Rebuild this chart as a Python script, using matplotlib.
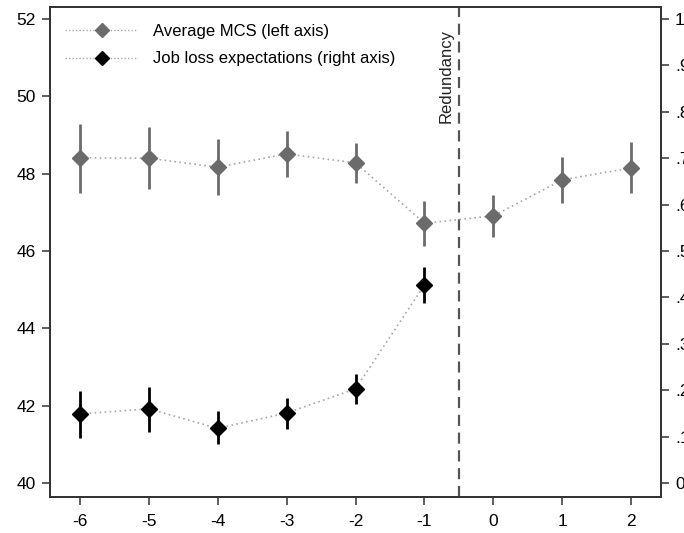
import matplotlib
matplotlib.use("Agg")
import matplotlib.pyplot as plt
from matplotlib.lines import Line2D
import numpy as np

plt.rcParams['font.family'] = ['Liberation Sans', 'DejaVu Sans']

# years relative to redundancy
periods = [-6, -5, -4, -3, -2, -1, 0, 1, 2]

# average MCS with confidence bounds (left axis)
mcs = [48.41, 48.40, 48.17, 48.51, 48.28, 46.72, 46.91, 47.84, 48.15]
mcs_lo = [47.50, 47.60, 47.45, 47.91, 47.76, 46.13, 46.36, 47.24, 47.50]
mcs_hi = [49.28, 49.20, 48.90, 49.10, 48.79, 47.29, 47.45, 48.43, 48.82]

# job loss expectations with confidence bounds (right axis)
job_periods = [-6, -5, -4, -3, -2, -1]
job = [0.149, 0.160, 0.118, 0.151, 0.203, 0.427]
job_lo = [0.098, 0.110, 0.084, 0.117, 0.170, 0.388]
job_hi = [0.199, 0.207, 0.155, 0.183, 0.235, 0.466]

left_ticks = [40, 42, 44, 46, 48, 50, 52]
right_ticks = [0, .1, .2, .3, .4, .5, .6, .7, .8, .9, 1]
right_labels = ['0', '.1', '.2', '.3', '.4', '.5', '.6', '.7', '.8', '.9', '1']

gray = '#6b6b6b'
dotc = '#a8a8a8'
spine_c = '#333333'

fig = plt.figure(figsize=(6.84, 5.33), dpi=100)
ax = fig.add_axes([0.0731, 0.0675, 0.8933, 0.9194])
ax2 = ax.twinx()

ylo, yhi = 39.64, 52.31
ax.set_ylim(ylo, yhi)
ax2.set_ylim((ylo - 40) / 12, (yhi - 40) / 12)
ax.set_xlim(-6.43, 2.43)

# MCS series
mcs = np.array(mcs)
ax.plot(periods, mcs, ls=(0, (1, 2)), color=dotc, lw=1.2, zorder=2)
ax.vlines(periods, mcs_lo, mcs_hi, color=gray, lw=2, zorder=3)
ax.plot(periods, mcs, 'D', color=gray, ms=8, zorder=4)

# job loss series
job = np.array(job)
ax2.plot(job_periods, job, ls=(0, (1, 2)), color=dotc, lw=1.2, zorder=2)
ax2.vlines(job_periods, job_lo, job_hi, color='black', lw=2, zorder=3)
ax2.plot(job_periods, job, 'D', color='black', ms=8, zorder=4)

# redundancy marker
ax.axvline(-0.5, color='#555555', lw=1.6, ls=(0, (5, 3)), zorder=1)
ax.text(-0.69, 51.74, 'Redundancy', rotation=90, ha='center', va='top',
        fontsize=12, color='#222222')

# legend built from proxy handles
h1 = Line2D([], [], ls=(0, (1, 1.5)), color=dotc, lw=1.0, marker='D',
            mfc=gray, mec=gray, ms=7)
h2 = Line2D([], [], ls=(0, (1, 1.5)), color=dotc, lw=1.0, marker='D',
            mfc='black', mec='black', ms=7)
ax.legend([h1, h2], ['Average MCS (left axis)', 'Job loss expectations (right axis)'],
          loc='upper left', frameon=False, fontsize=12, handlelength=4.4,
          bbox_to_anchor=(0.0, 0.996), labelspacing=0.75, handletextpad=0.85)

ax.set_xticks(periods)
ax.set_xticklabels([str(p) for p in periods])
ax.set_yticks(left_ticks)
ax2.set_yticks(right_ticks)
ax2.set_yticklabels(right_labels)

for a in (ax, ax2):
    for s in a.spines.values():
        s.set_color(spine_c)
        s.set_linewidth(1.3)
    a.tick_params(length=6, width=1.1, color=spine_c, labelsize=12.5, pad=4)
ax.tick_params(axis='x', pad=6)

fig.savefig('out.png', dpi=100)
